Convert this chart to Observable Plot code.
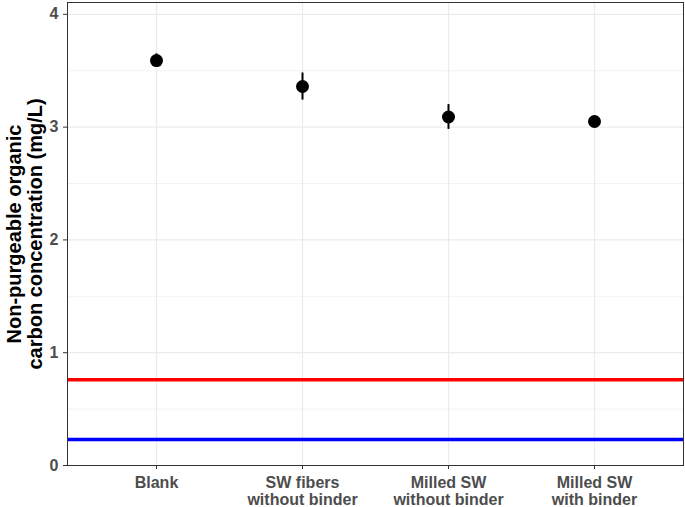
<!DOCTYPE html>
<html>
<head>
<meta charset="utf-8">
<script src="https://cdn.jsdelivr.net/npm/d3@7"></script>
<script src="https://cdn.jsdelivr.net/npm/@observablehq/plot@0.6"></script>
<style>
  html, body { margin: 0; padding: 0; background: #fff; }
  #chart svg { display: block; }
</style>
</head>
<body>
<div id="chart"></div>
<script>
// Data
const categories = ["Blank", "SW fibers without binder", "Milled SW without binder", "Milled SW with binder"];
const tickLabels = ["Blank", "SW fibers\nwithout binder", "Milled SW\nwithout binder", "Milled SW\nwith binder"];
const means = [3.59, 3.36, 3.09, 3.05];
const errors = [0.06, 0.12, 0.11, 0.03];
const redLine = [0.76];
const blueLine = [0.23];
const yTicks = [0, 1, 2, 3, 4];
const yMinorTicks = [0.5, 1.5, 2.5, 3.5];
const yTitle = "Non-purgeable organic\ncarbon concentration (mg/L)";

const data = categories.map((c, i) => ({cat: c, mean: means[i], lo: means[i] - errors[i], hi: means[i] + errors[i]}));
const labelOf = new Map(categories.map((c, i) => [c, tickLabels[i]]));

const plot = Plot.plot({
  width: 685,
  height: 507,
  marginLeft: 67,
  marginRight: 2,
  marginTop: 2,
  marginBottom: 42,
  style: {fontFamily: "'Liberation Sans', Arial, sans-serif", fontSize: "16px", background: "#fff"},
  x: {type: "point", domain: categories, padding: 0.6},
  y: {domain: [0, 4.105]},
  marks: [
    Plot.gridY(yMinorTicks, {stroke: "#EBEBEB", strokeOpacity: 1, strokeWidth: 0.6}),
    Plot.gridY(yTicks, {stroke: "#EBEBEB", strokeOpacity: 1, strokeWidth: 1.2}),
    Plot.gridX(categories, {stroke: "#EBEBEB", strokeOpacity: 1, strokeWidth: 1.2}),
    Plot.ruleY(redLine, {stroke: "#FF0000", strokeWidth: 3.5}),
    Plot.ruleY(blueLine, {stroke: "#0000FF", strokeWidth: 3.5}),
    Plot.ruleX(data, {x: "cat", y1: "lo", y2: "hi", stroke: "black", strokeWidth: 2}),
    Plot.dot(data, {x: "cat", y: "mean", r: 6.5, fill: "black", stroke: null}),
    Plot.frame({stroke: "#333333", strokeWidth: 1}),
    Plot.axisX({ticks: categories, tickSize: 4, text: null, stroke: "#333333", label: null}),
    Plot.axisX({ticks: categories, tickSize: 0, tickPadding: 11, tickFormat: d => labelOf.get(d),
      color: "#4D4D4D", fontWeight: "bold", fontSize: 16, lineHeight: 1.05, label: null}),
    Plot.axisY({ticks: yTicks, tickSize: 4, text: null, stroke: "#333333", label: null}),
    Plot.axisY({ticks: yTicks, tickSize: 0, tickPadding: 9, tickFormat: d3.format("d"),
      color: "#4D4D4D", fontWeight: "bold", fontSize: 16, label: null}),
    Plot.text([yTitle], {text: d => d, frameAnchor: "left", rotate: -90, dx: -43,
      lineAnchor: "middle", textAnchor: "middle", fontWeight: "bold", fontSize: 20, lineHeight: 1.05, fill: "black"})
  ]
});
document.getElementById("chart").appendChild(plot);
</script>
</body>
</html>
